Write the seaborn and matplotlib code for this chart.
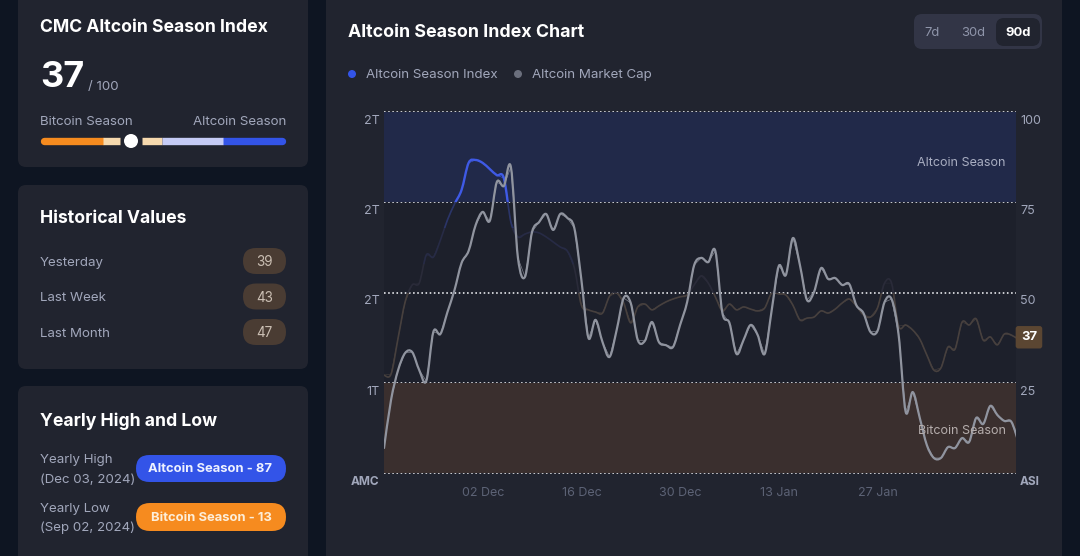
import matplotlib
matplotlib.use('Agg')
import matplotlib.pyplot as plt
from matplotlib.patches import FancyBboxPatch, Rectangle, Circle, PathPatch
from matplotlib.path import Path
from matplotlib.transforms import blended_transform_factory, ScaledTranslation
import seaborn as sns
import pandas as pd

sns.set_style('white')
plt.rcParams['font.family'] = ['Inter', 'DejaVu Sans']

# daily values
season_index = [27.1, 27.4, 37.4, 47.4, 52.1, 52.6, 60.4, 59.8, 64.5, 70.1,
                74.5, 78.4, 85.9, 86.7, 85.9, 84.2, 82.5, 81.7, 69.5, 65.4,
                66.2, 66.8, 66.5, 65.4, 64.0, 62.6, 61.5, 56.8, 46.5, 45.2,
                44.6, 44.3, 49.0, 49.9, 47.1, 41.6, 46.0, 46.8, 45.2, 46.3,
                47.4, 48.2, 48.8, 49.3, 52.1, 54.6, 52.6, 48.8, 44.9, 46.8,
                45.2, 46.0, 45.4, 44.9, 45.7, 49.9, 49.6, 49.3, 46.5, 42.4,
                42.9, 43.2, 44.9, 44.3, 45.4, 47.1, 48.2, 46.3, 43.8, 43.2,
                45.7, 52.6, 52.6, 40.7, 41.0, 39.6, 37.1, 32.7, 28.5, 29.1,
                34.9, 34.3, 41.8, 41.0, 42.7, 36.8, 37.7, 35.5, 38.5, 38.2,
                37.0]
market_cap = [1.083, 1.243, 1.342, 1.399, 1.402, 1.342, 1.306, 1.469, 1.462, 1.535,
              1.608, 1.698, 1.738, 1.824, 1.868, 1.838, 1.967, 1.954, 2.017, 1.715,
              1.652, 1.801, 1.834, 1.861, 1.808, 1.861, 1.848, 1.814, 1.642, 1.449,
              1.509, 1.435, 1.386, 1.475, 1.582, 1.565, 1.442, 1.439, 1.502, 1.435,
              1.425, 1.419, 1.492, 1.568, 1.691, 1.715, 1.701, 1.738, 1.532, 1.499,
              1.396, 1.442, 1.492, 1.459, 1.396, 1.542, 1.688, 1.658, 1.781, 1.691,
              1.575, 1.602, 1.681, 1.645, 1.648, 1.625, 1.628, 1.558, 1.532, 1.469,
              1.472, 1.568, 1.578, 1.459, 1.203, 1.269, 1.183, 1.093, 1.050, 1.050,
              1.086, 1.083, 1.116, 1.103, 1.183, 1.163, 1.223, 1.193, 1.173, 1.170,
              1.103]
dates = pd.date_range('2024-11-18', periods=len(season_index))

date_ticks = ['2024-12-02', '2024-12-16', '2024-12-30', '2025-01-13', '2025-01-27']
date_labels = ['02 Dec', '16 Dec', '30 Dec', '13 Jan', '27 Jan']
index_ticks = [0, 25, 50, 75, 100]
index_labels = ['ASI', '25', '50', '75', '100']
cap_ticks = [1.0, 1.3, 1.6, 1.9, 2.2]
cap_labels = ['AMC', '1T', '2T', '2T', '2T']

history_names = ['Yesterday', 'Last Week', 'Last Month']
history_values = [39, 43, 47]

df = pd.DataFrame({'date': dates, 'index': season_index, 'cap': market_cap})

# colours
OUTER = '#0e1522'
CARD = '#21242f'
PLOT = '#1d202b'
WHITE = '#ffffff'
SOFT = '#a1a7bb'
BLUE = '#3354e8'
ORANGE = '#f68b1f'

fig = plt.figure(figsize=(10.8, 5.56), dpi=100, facecolor=OUTER)

# page layer, one unit is one pixel
ui = fig.add_axes([0, 0, 1, 1], zorder=0)
ui.set_xlim(0, 1080)
ui.set_ylim(556, 0)
ui.axis('off')


def box(x0, y0, x1, y1, color, r=8):
    ui.add_patch(FancyBboxPatch((x0, y0), x1 - x0, y1 - y0, facecolor=color, edgecolor='none',
                                boxstyle='round,pad=0,rounding_size={}'.format(r)))


def label(x, y, s, size=13.3, color=SOFT, weight='normal', ha='left'):
    ui.text(x, y + 1.8, s, fontsize=size * 0.72, color=color, fontweight=weight, ha=ha, va='center')


def round_line(ax, line, color, width, clip=None):
    """ Draw a seaborn line again as a curve through the same points, like the rounded original """
    pts = line.get_xydata()
    verts = [pts[0]]
    codes = [Path.MOVETO]
    for i in range(len(pts) - 1):
        before = pts[max(i - 1, 0)]
        after = pts[min(i + 2, len(pts) - 1)]
        verts += [pts[i] + (pts[i + 1] - before) / 6, pts[i + 1] - (after - pts[i]) / 6, pts[i + 1]]
        codes += [Path.CURVE4] * 3
    patch = PathPatch(Path(verts, codes), fill=False, edgecolor=color, linewidth=width, capstyle='round',
                      joinstyle='round', transform=ax.transData)
    ax.add_patch(patch)
    if clip is not None:
        patch.set_clip_path(clip)


# cards
box(18, -20, 308, 167, CARD)
box(18, 185, 308, 369, CARD)
box(18, 386, 308, 580, CARD)
box(326, -20, 1062, 580, CARD)

# gauge card
label(40, 26, 'CMC Altcoin Season Index', 17.6, WHITE, 'bold')
label(40, 76, '37', 36, WHITE, 'bold')
label(88, 85, '/ 100')
label(40, 120, 'Bitcoin Season')
label(286, 120, 'Altcoin Season', ha='right')
ui.plot([44, 103], [141, 141], color=ORANGE, lw=5.3, solid_capstyle='round')
ui.plot([223, 282], [141, 141], color=BLUE, lw=5.3, solid_capstyle='round')
ui.plot([103, 120], [141, 141], color='#f6d9ae', lw=5.3, solid_capstyle='butt')
ui.plot([142, 162], [141, 141], color='#f6d9ae', lw=5.3, solid_capstyle='butt')
ui.plot([162, 223], [141, 141], color='#c5cbf5', lw=5.3, solid_capstyle='butt')
ui.add_patch(Circle((131, 141), 10, facecolor=CARD, edgecolor='none'))
ui.add_patch(Circle((131, 141), 7, facecolor=WHITE, edgecolor='none'))

# history card
label(40, 217, 'Historical Values', 17.6, WHITE, 'bold')
for i in range(len(history_names)):
    y = 261 + i * 35.5
    label(40, y, history_names[i])
    box(243, y - 13, 286, y + 13, '#4a3c33', 13)
    label(264.5, y - 0.5, str(history_values[i]), 13.5, '#cbbfb3', 'normal', 'center')

# yearly card
label(40, 419, 'Yearly High and Low', 17.6, WHITE, 'bold')
label(40, 458, 'Yearly High')
label(40, 478, '(Dec 03, 2024)')
label(40, 507, 'Yearly Low')
label(40, 526, '(Sep 02, 2024)')
box(136, 455, 286, 482, BLUE, 13.5)
label(210, 467.5, 'Altcoin Season - 87', 13, '#eef1ff', 'bold', 'center')
box(136, 503, 286, 531, ORANGE, 14)
label(211, 516, 'Bitcoin Season - 13', 13, '#fdeed9', 'bold', 'center')

# chart header
label(348, 31, 'Altcoin Season Index Chart', 17.8, WHITE, 'bold')
box(914, 14, 1042, 49, '#323546', 8)
box(996, 18, 1040, 46, CARD, 8)
label(932, 31, '7d', 13, '#8f95aa', 'normal', 'center')
label(973, 31, '30d', 13, '#8f95aa', 'normal', 'center')
label(1018, 31, '90d', 13, WHITE, 'bold', 'center')
ui.add_patch(Circle((352, 74), 4, facecolor=BLUE, edgecolor='none'))
label(366, 73, 'Altcoin Season Index')
ui.add_patch(Circle((518, 74), 4, facecolor='#6b6f7d', edgecolor='none'))
label(532, 73, 'Altcoin Market Cap')

# chart: the index sits on a lower axes, the market cap above it
ax_index = fig.add_axes([384 / 1080, (556 - 473) / 556, 632 / 1080, 361 / 556], zorder=1)
ax_cap = ax_index.twinx()
ax_cap.set_zorder(2)
ax_cap.patch.set_visible(False)
ax_index.set_facecolor(PLOT)

ax_index.axhspan(75, 100, color='#212949', lw=0)
ax_index.axhspan(0, 25, color='#3a2f2e', lw=0)

trans = blended_transform_factory(ax_index.transAxes, ax_index.transData)

# index line fades from blue to brown, one clipped copy for each band
index_bands = [(75, 100, '#3f5ae6', 1.7), (68, 75, '#2b3568', 1.2), (58, 68, '#272b45', 1.2),
               (50, 58, '#2a2b39', 1.2), (0, 50, '#47403e', 1.2)]
for low, high, color, width in index_bands:
    sns.lineplot(data=df, x='date', y='index', ax=ax_index, color=color, linewidth=0.4, legend=False)
    band_clip = Rectangle((0, low), 1, high - low, transform=trans)
    ax_index.lines[-1].set_clip_path(band_clip)
    round_line(ax_index, ax_index.lines[-1], color, width, band_clip)

sns.lineplot(data=df, x='date', y='cap', ax=ax_cap, color='#90949f', linewidth=0.4, legend=False)
round_line(ax_cap, ax_cap.lines[-1], '#90949f', 1.6)

ax_index.set_ylim(0, 100)
ax_cap.set_ylim(1.0, 2.2)
ax_index.set_xlim(dates[0], dates[0] + pd.Timedelta(days=89.65))

ax_index.yaxis.tick_right()
ax_index.yaxis.set_label_position('right')
ax_index.set_yticks(index_ticks, index_labels)
ax_cap.yaxis.tick_left()
ax_cap.set_yticks(cap_ticks, cap_labels)
ax_cap.set_xticks(pd.to_datetime(date_ticks), date_labels)
ax_index.set_xticks(pd.to_datetime(date_ticks), date_labels)

ax_index.grid(axis='y', color='#f2f3f7', linewidth=1.15, linestyle=(0, (1, 1.6)))
ax_index.grid(axis='x', visible=False)
for line in ax_index.get_ygridlines():
    line.set_clip_on(False)
ax_cap.grid(False)

for a in (ax_index, ax_cap):
    a.set_xlabel('')
    a.set_ylabel('')
    a.tick_params(length=0)
    for spine in a.spines.values():
        spine.set_visible(False)

ax_index.tick_params(axis='x', colors='#5c6275', labelsize=9, pad=10)
ax_cap.tick_params(axis='x', bottom=False, labelbottom=False)
ax_index.tick_params(axis='y', colors=SOFT, labelsize=9, pad=2.8, labelright=True, labelleft=False)
ax_cap.tick_params(axis='y', colors=SOFT, labelsize=9, pad=3, labelleft=True, labelright=False)
down = ScaledTranslation(0, -3 / 100, fig.dpi_scale_trans)
for lab in ax_index.get_yticklabels() + ax_cap.get_yticklabels():
    lab.set_va('top')
    lab.set_transform(lab.get_transform() + down)
for a, text in ((ax_index, 'ASI'), (ax_cap, 'AMC')):
    for lab in a.get_yticklabels():
        if lab.get_text() == text:
            lab.set_fontweight('bold')
            lab.set_fontsize(8.6)

ax_cap.text(0.984, 86, 'Altcoin Season', transform=trans, fontsize=9, color='#a9aec2', ha='right', va='center')
ax_cap.text(0.984, 11.6, 'Bitcoin Season', transform=trans, fontsize=9, color='#b5adac', ha='right', va='center')
ax_index.text(1.0205, 37.6, '37', transform=trans, fontsize=9.4, color=WHITE, fontweight='bold', ha='center',
              va='center', clip_on=False,
              bbox=dict(boxstyle='round,pad=0.4,rounding_size=0.2', facecolor='#5b4632', edgecolor='none'))

fig.savefig('out.png', dpi=100, facecolor=OUTER)
